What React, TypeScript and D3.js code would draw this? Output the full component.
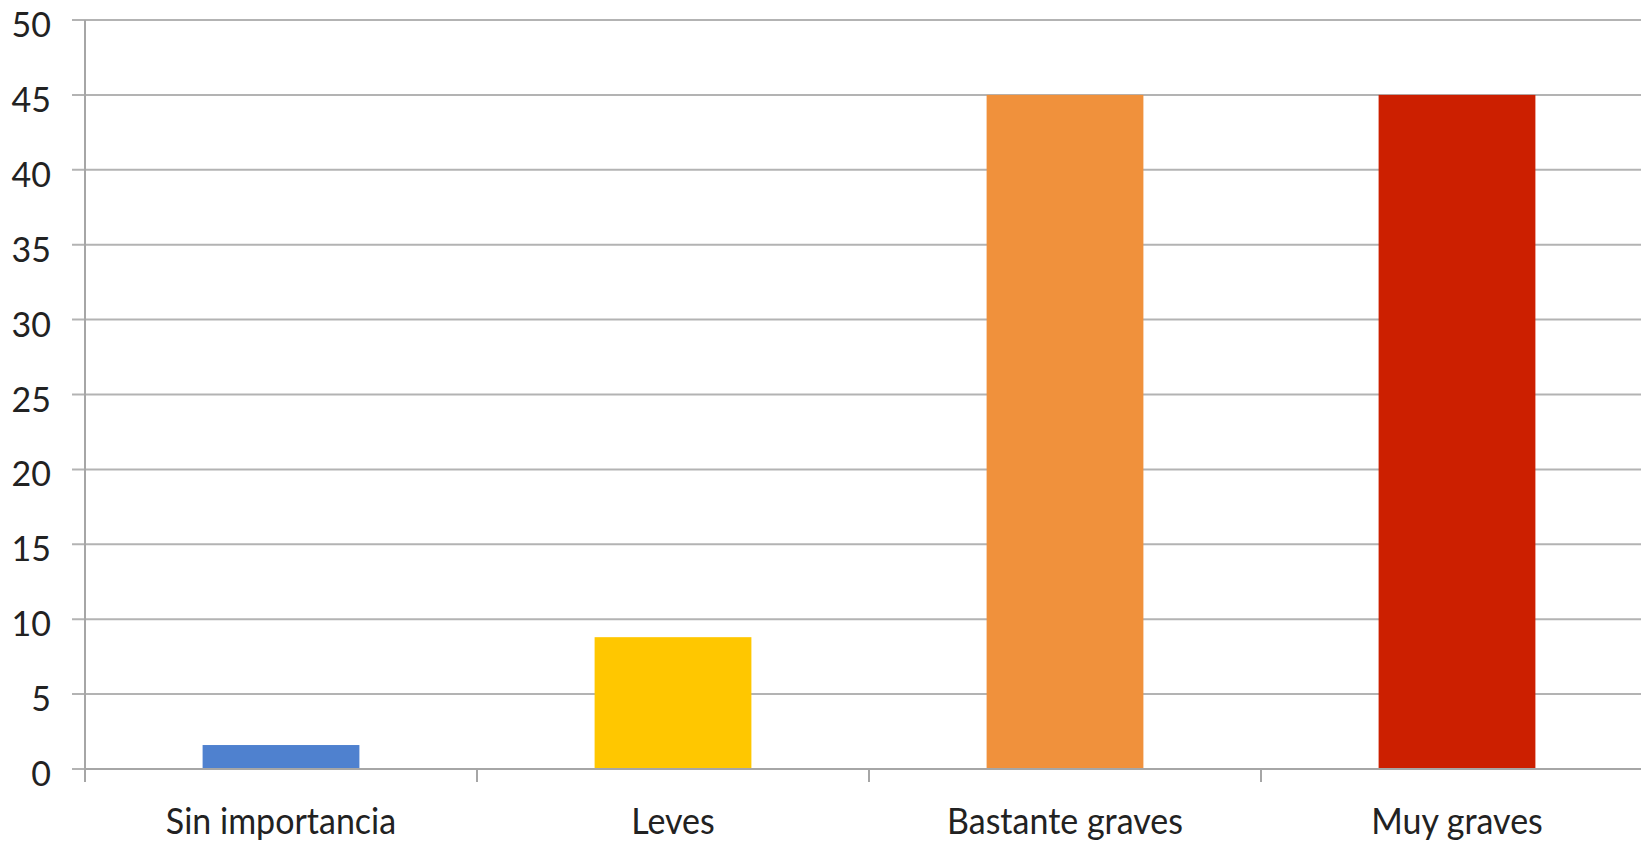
import React from "react";
import * as d3 from "d3";

const categories = ["Sin importancia", "Leves", "Bastante graves", "Muy graves"];
const values = [1.6, 8.8, 45, 45];
const colors = ["#4F81CF", "#FFC700", "#F0913C", "#CC1F00"];
const yTicks = [0, 5, 10, 15, 20, 25, 30, 35, 40, 45, 50];

const W = 1641;
const H = 845;

export default function App() {
  const y = d3.scaleLinear().domain([0, 50]).range([769, 20]);
  const x = d3.scaleBand<string>().domain(categories).range([85, 1653]).paddingInner(0).paddingOuter(0);
  const bw = x.bandwidth();
  const barW = bw * 0.4;
  const font = "Lato, 'Open Sans', sans-serif";
  const tickXs = categories.map((c) => x(c) as number).concat([(x(categories[3]) as number) + bw]);

  return (
    <svg width={W} height={H} style={{ position: "absolute", left: 0, top: 0, background: "#fff" }}>
      {yTicks.map((t) => (
        <g key={t}>
          <line x1={72} x2={W} y1={y(t)} y2={y(t)} stroke="#b3b3b3" strokeWidth={2} />
          <text
            x={51}
            y={y(t) + 17}
            textAnchor="end"
            fontFamily={font}
            fontSize={34}
            fill="#222"
          >
            {t}
          </text>
        </g>
      ))}
      <line x1={85} x2={85} y1={y(50)} y2={782} stroke="#a6a6a6" strokeWidth={2} />
      {tickXs.map((tx, i) => (
        <line key={i} x1={tx} x2={tx} y1={769} y2={782} stroke="#a6a6a6" strokeWidth={2} />
      ))}
      {categories.map((c, i) => (
        <rect
          key={c}
          x={(x(c) as number) + (bw - barW) / 2}
          y={y(values[i])}
          width={barW}
          height={y(0) - y(values[i])}
          fill={colors[i]}
        />
      ))}
      <line x1={85} x2={W} y1={y(0)} y2={y(0)} stroke="#a6a6a6" strokeWidth={2} />
      {categories.map((c) => (
        <text
          key={c}
          transform={`translate(${(x(c) as number) + bw / 2},825) scale(1,1.1)`}
          textAnchor="middle"
          dominantBaseline="middle"
          fontFamily={font}
          fontSize={34}
          fill="#222"
        >
          {c}
        </text>
      ))}
    </svg>
  );
}
